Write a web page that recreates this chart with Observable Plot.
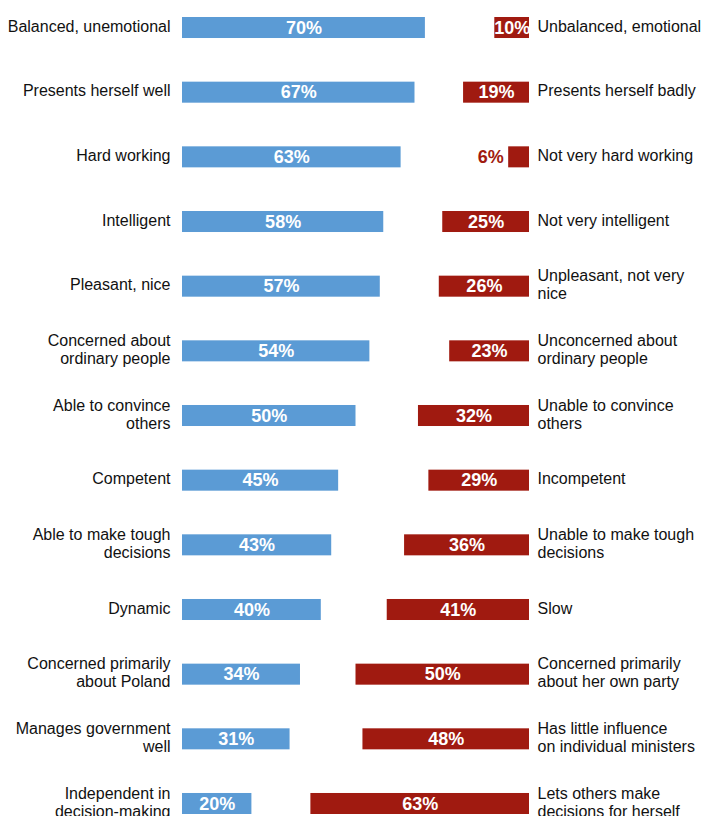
<!DOCTYPE html>
<html><head><meta charset="utf-8">
<script src="https://cdn.jsdelivr.net/npm/d3@7"></script>
<script src="https://cdn.jsdelivr.net/npm/@observablehq/plot@0.6"></script>
<style>
body{margin:0;background:#fff;overflow:hidden}
</style>
</head><body><div id="chart"></div>
<script>
const positiveTraits = [
  "Balanced, unemotional", "Presents herself well", "Hard working", "Intelligent",
  "Pleasant, nice", "Concerned about\nordinary people", "Able to convince\nothers",
  "Competent", "Able to make tough\ndecisions", "Dynamic",
  "Concerned primarily\nabout Poland", "Manages government\nwell", "Independent in\ndecision-making"
];
const negativeTraits = [
  "Unbalanced, emotional", "Presents herself badly", "Not very hard working", "Not very intelligent",
  "Unpleasant, not very\nnice", "Unconcerned about\nordinary people", "Unable to convince\nothers",
  "Incompetent", "Unable to make tough\ndecisions", "Slow",
  "Concerned primarily\nabout her own party", "Has little influence\non individual ministers", "Lets others make\ndecisions for herself"
];
const positiveShare = [70, 67, 63, 58, 57, 54, 50, 45, 43, 40, 34, 31, 20];
const negativeShare = [10, 19, 6, 25, 26, 23, 32, 29, 36, 41, 50, 48, 63];

const rows = positiveTraits.map((p, i) => ({i, p, n: negativeTraits[i], pos: positiveShare[i], neg: negativeShare[i]}));
const FULL = 100;
const BLUE = "#5b9bd5";
const RED = "#a01a10";

const chart = Plot.plot({
  width: 702, height: 816,
  marginLeft: 182, marginRight: 173, marginTop: 17, marginBottom: 2,
  x: {domain: [0, FULL], axis: null},
  y: {domain: d3.range(rows.length), axis: null, paddingInner: 0.675, paddingOuter: 0, round: false},
  style: {fontFamily: "'Liberation Sans', Arial, sans-serif", background: "white", overflow: "visible"},
  marks: [
    Plot.barX(rows, {y: "i", x1: () => 0, x2: "pos", fill: BLUE}),
    Plot.barX(rows, {y: "i", x1: d => FULL - d.neg, x2: () => FULL, fill: RED}),
    Plot.text(rows, {y: "i", x: d => d.pos / 2, text: d => d.pos + "%", fill: "white", fontWeight: "bold", fontSize: 18}),
    Plot.text(rows.filter(d => d.neg >= 8), {y: "i", x: d => FULL - d.neg / 2, text: d => d.neg + "%", fill: "white", fontWeight: "bold", fontSize: 18}),
    Plot.text(rows.filter(d => d.neg < 8), {y: "i", x: d => FULL - d.neg, dx: -5, textAnchor: "end", text: d => d.neg + "%", fill: RED, fontWeight: "bold", fontSize: 18}),
    Plot.text(rows, {y: "i", x: () => 0, dx: -12, dy: -2, text: "p", textAnchor: "end", fontSize: 16, lineHeight: 1.125, fill: "#111"}),
    Plot.text(rows, {y: "i", x: () => FULL, dx: 8, dy: -2, text: "n", textAnchor: "start", fontSize: 16, lineHeight: 1.125, fill: "#111"})
  ]
});
document.getElementById("chart").append(chart);
</script>
</body></html>
